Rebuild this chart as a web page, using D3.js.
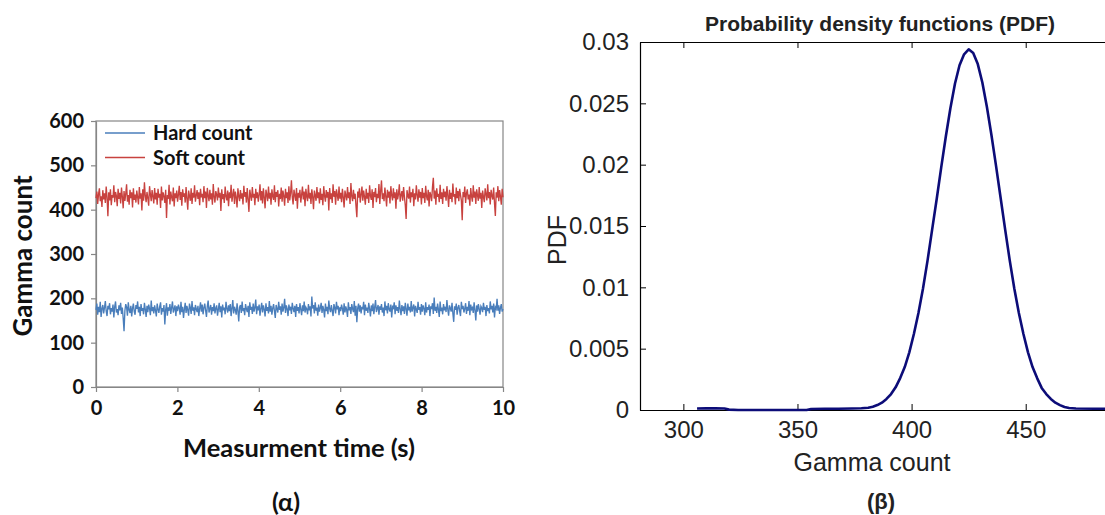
<!DOCTYPE html>
<html><head><meta charset="utf-8">
<script src="https://cdn.jsdelivr.net/npm/d3@7"></script>
<style>body{margin:0;background:#fff}svg{display:block}</style>
</head><body><svg id="c" width="1105" height="515"></svg>
<script>
const hardCount=[
174,188,163,181,169,192,158,177,185,166,179,194,171,160,183,175,189,164,178,170,186,157,181,193,
168,176,162,184,173,190,165,179,155,126,172,187,180,161,191,174,167,183,159,178,188,170,163,185,
176,193,168,181,160,187,172,178,164,190,175,158,183,169,186,177,162,195,171,180,166,184,173,159,
188,175,167,182,191,163,178,170,185,141,174,189,161,180,172,187,165,179,193,168,176,184,160,182,
171,186,178,163,192,169,181,156,175,190,167,183,174,161,188,179,165,194,172,180,162,185,176,169,
183,160,177,191,170,186,164,179,188,173,158,182,195,168,176,185,163,180,171,189,166,178,184,161,
175,190,169,182,157,186,173,179,164,192,177,168,184,171,187,160,178,196,166,181,174,163,189,172,
148,180,185,167,193,171,178,162,187,176,169,183,158,191,174,181,165,188,170,179,197,164,182,173,
186,161,177,190,168,184,175,159,189,172,180,166,194,170,183,163,178,187,171,156,185,176,168,192,
174,182,163,188,170,179,199,167,184,176,160,186,173,181,165,190,177,169,183,158,187,172,180,166,
189,175,162,184,171,193,168,180,176,164,187,173,182,159,204,177,185,166,191,172,179,161,186,170,
178,190,167,183,174,157,188,171,181,164,195,176,169,185,172,160,187,179,166,192,175,183,162,180,
171,186,177,163,189,168,182,174,158,191,173,180,165,187,176,169,194,161,183,146,178,188,170,184,
166,181,175,192,162,186,172,179,167,190,176,159,184,171,188,164,180,196,169,177,185,163,182,174,
187,168,179,160,193,173,183,166,189,175,170,186,157,181,178,191,164,184,172,180,167,195,176,162,
185,171,182,165,190,176,161,188,173,181,168,194,170,179,186,159,183,175,167,192,174,180,163,187,
170,184,177,162,191,168,180,174,186,160,182,176,189,165,202,172,181,167,188,175,158,193,171,179,
164,187,173,181,169,196,175,161,184,178,170,190,166,147,182,174,188,163,179,185,171,160,192,176,
183,168,177,189,165,181,172,194,162,186,175,179,167,191,173,150,184,170,187,176,163,182,178,169,
190,174,181,160,185,171,178,166,193,175,183,168,188,157,180,176,199,172,184,165,179,187,170,176];
const softCount=[
426,441,413,435,448,419,430,406,444,423,437,415,452,428,385,439,421,446,410,433,427,455,417,440,
431,408,447,424,438,414,450,429,403,442,420,436,457,418,433,411,445,426,439,405,448,422,434,416,
443,428,412,451,425,437,398,446,420,462,431,417,440,426,409,453,435,419,444,430,414,449,423,438,
411,447,427,436,404,452,421,439,430,415,445,381,433,424,456,412,441,428,419,450,407,437,426,443,
418,434,454,422,440,409,446,429,437,416,451,425,400,443,431,420,448,413,438,427,455,418,432,444,
424,439,410,447,428,436,417,453,426,441,404,449,432,419,445,423,437,411,458,429,416,442,434,421,
450,427,438,397,446,424,435,415,452,430,421,443,408,439,426,456,418,433,447,413,441,428,405,448,
431,419,444,425,437,412,454,429,440,416,449,423,395,445,432,420,451,427,436,410,447,426,439,418,
433,457,421,442,414,448,428,403,445,434,419,452,425,438,411,446,430,422,455,417,440,429,444,407,
436,424,450,418,443,431,409,447,426,439,415,453,421,437,466,428,412,445,433,420,449,402,438,427,
445,416,434,452,423,441,408,447,430,419,456,425,438,413,446,429,401,443,432,420,451,426,439,414,
448,422,436,410,453,431,418,444,427,440,398,449,424,437,415,457,429,442,411,446,433,420,452,425,
438,417,447,428,405,443,432,421,451,426,439,413,460,430,419,445,424,436,408,383,441,427,448,416,
434,452,420,443,429,411,447,425,438,415,455,431,422,446,404,440,428,449,417,436,426,458,413,442,
466,424,437,419,450,430,407,445,427,441,414,453,432,421,448,426,439,402,446,423,435,457,418,433,
442,420,451,429,410,379,444,431,425,452,416,439,428,447,408,437,423,455,433,418,446,427,440,412,
449,426,438,415,454,430,421,445,407,440,432,419,451,472,425,443,411,448,429,436,417,456,424,439,
413,447,428,441,420,453,432,406,445,424,438,417,459,429,435,412,450,426,442,419,447,433,421,376,
440,428,452,415,437,446,423,434,409,449,430,418,455,427,441,413,446,432,420,451,425,438,404,443,
429,417,448,435,421,457,426,440,412,445,431,423,450,414,386,439,427,453,419,444,430,411,447,428];
const timeRange=[0,10];
const timeTicks=[0,2,4,6,8,10];
const countTicks=[0,100,200,300,400,500,600];
const legendLabels=["Hard count","Soft count"];

const pdfGamma=[306,310,314,318,320,324,340,354,356,362,368,374,378,381,383,385,387,389,391,393,395,397,399,401,403,405,407,409,411,413,415,417,419,421,423,425,427,429,431,433,435,437,439,441,443,445,447,449,451,453,455,457,459,461,463,465,467,469,472,480,490,500];
const pdfDensity=[0.00012,0.00014,0.00013,0.00012,0.00003,0,0,0,0.00008,0.0001,0.0001,0.00012,0.00014,0.00018,0.00027,0.0004,0.0006,0.0009,0.0013,0.00185,0.0026,0.0035,0.0047,0.0062,0.0079,0.0099,0.0122,0.0147,0.0172,0.0198,0.0223,0.0246,0.0266,0.0281,0.0290,0.0294,0.0291,0.0282,0.0267,0.0247,0.0224,0.0199,0.0173,0.0147,0.0122,0.0099,0.0079,0.0062,0.0047,0.0035,0.0026,0.0018,0.0013,0.0009,0.0006,0.0004,0.00025,0.00016,0.00012,0.0001,0.0001,0.0001];
const gammaTicks=[300,350,400,450];
const densityTicks=[0,0.005,0.01,0.015,0.02,0.025,0.03];

const svg=d3.select("#c");
svg.append("rect").attr("width",1105).attr("height",515).attr("fill","#fff");

/* ---------- left chart ---------- */
const LF="Lato, 'Open Sans', sans-serif";
const gray="#868686";
const xT=d3.scaleLinear().domain(timeRange).range([96,503]);
const yC=d3.scaleLinear().domain([0,600]).range([387,121]);
const idxToTime=d3.scaleLinear().domain([0,hardCount.length-1]).range(timeRange);

const left=svg.append("g");
left.append("rect").attr("x",96).attr("y",121).attr("width",407).attr("height",266)
  .attr("fill","none").attr("stroke",gray).attr("stroke-width",1.2);

const ax1=left.append("g").attr("transform","translate(96,0)")
  .call(d3.axisLeft(yC).tickValues(countTicks).tickSize(5).tickSizeOuter(0).tickPadding(7));
const ax2=left.append("g").attr("transform","translate(0,387)")
  .call(d3.axisBottom(xT).tickValues(timeTicks).tickSize(5).tickSizeOuter(0).tickPadding(9));
[ax1,ax2].forEach(a=>{
  a.select(".domain").attr("stroke",gray).attr("stroke-width",1.2);
  a.selectAll(".tick line").attr("stroke",gray).attr("stroke-width",1.2);
  a.selectAll(".tick text").attr("font-family",LF).attr("font-weight",700)
    .attr("font-size",20).attr("fill","#111");
});

const lineT=d3.line().x((d,i)=>xT(idxToTime(i))).y(d=>yC(d));
const colors=["#4a7ebb","#c8423f"];
left.append("path").datum(hardCount).attr("d",lineT).attr("fill","none")
  .attr("stroke",colors[0]).attr("stroke-width",1.35);
left.append("path").datum(softCount).attr("d",lineT).attr("fill","none")
  .attr("stroke",colors[1]).attr("stroke-width",1.35);

legendLabels.forEach((lab,i)=>{
  const y=133+i*24.5;
  left.append("line").attr("x1",105).attr("x2",145).attr("y1",y).attr("y2",y)
    .attr("stroke",colors[i]).attr("stroke-width",1.5);
  left.append("text").attr("x",153).attr("y",y).attr("dy","0.35em")
    .attr("font-family",LF).attr("font-weight",700).attr("font-size",20).attr("fill","#111").text(lab);
});

left.append("text").attr("transform","translate(32,256) rotate(-90)").attr("text-anchor","middle")
  .attr("font-family",LF).attr("font-weight",700).attr("font-size",26).attr("fill","#111").text("Gamma count");
left.append("text").attr("x",299).attr("y",457).attr("text-anchor","middle")
  .attr("font-family",LF).attr("font-weight",700).attr("font-size",25.5).attr("fill","#111").text("Measurment time (s)");
left.append("text").attr("x",286).attr("y",511).attr("text-anchor","middle")
  .attr("font-family",LF).attr("font-weight",700).attr("font-size",25).attr("fill","#111").text("(α)");

/* ---------- right chart ---------- */
const RF="'Liberation Sans', Arial, sans-serif";
const xG=d3.scaleLinear().domain([281,490]).range([640,1117]);
const yD=d3.scaleLinear().domain([0,0.03]).range([410,42]);
const right=svg.append("g");

const fmt=d=>String(+d.toFixed(3));
const rb=right.append("g").attr("transform","translate(0,410)")
  .call(d3.axisBottom(xG).tickValues(gammaTicks).tickSizeInner(-6).tickSizeOuter(0).tickPadding(11));
const rl=right.append("g").attr("transform","translate(640,0)")
  .call(d3.axisLeft(yD).tickValues(densityTicks).tickFormat(fmt).tickSizeInner(-6).tickSizeOuter(0).tickPadding(11));
const rt=right.append("g").attr("transform","translate(0,42)")
  .call(d3.axisTop(xG).tickValues(gammaTicks).tickSizeInner(-6).tickSizeOuter(0).tickFormat(""));
const rr=right.append("g").attr("transform","translate(1117,0)")
  .call(d3.axisRight(yD).tickValues(densityTicks).tickSizeInner(-6).tickSizeOuter(0).tickFormat(""));
[rb,rl,rt,rr].forEach(a=>{
  a.select(".domain").attr("stroke","#000").attr("stroke-width",1.2);
  a.selectAll(".tick line").attr("stroke","#000").attr("stroke-width",1);
  a.selectAll(".tick text").attr("font-family",RF).attr("font-size",24).attr("fill","#222");
});

const lineP=d3.line().x((d,i)=>xG(pdfGamma[i])).y(d=>yD(d));
right.append("path").datum(pdfDensity).attr("d",lineP).attr("fill","none")
  .attr("stroke","#0c0c78").attr("stroke-width",2.6).attr("stroke-linejoin","round");

right.append("text").attr("x",880).attr("y",31).attr("text-anchor","middle")
  .attr("font-family",RF).attr("font-weight",700).attr("font-size",21).attr("fill","#222")
  .text("Probability density functions (PDF)");
right.append("text").attr("x",872).attr("y",471).attr("text-anchor","middle")
  .attr("font-family",RF).attr("font-size",25).attr("fill","#222").text("Gamma count");
right.append("text").attr("transform","translate(566,240) rotate(-90)").attr("text-anchor","middle")
  .attr("font-family",RF).attr("font-size",25).attr("fill","#222").text("PDF");
right.append("text").attr("x",881).attr("y",509).attr("text-anchor","middle")
  .attr("font-family",RF).attr("font-weight",700).attr("font-size",22).attr("fill","#222").text("(β)");
</script></body></html>
